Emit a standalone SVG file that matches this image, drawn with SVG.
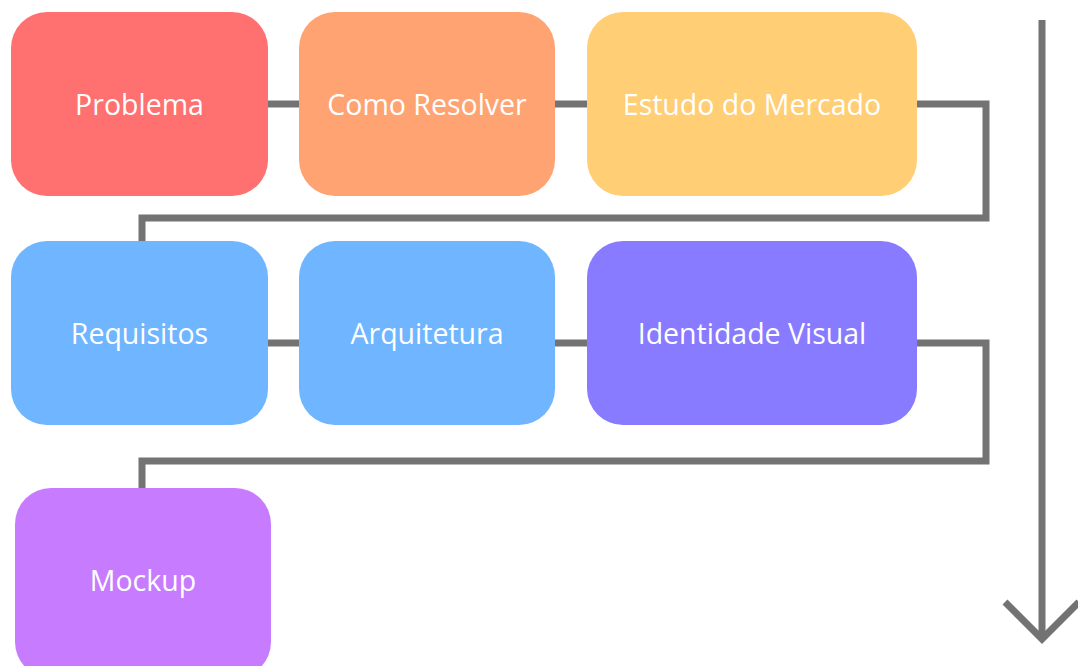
<svg xmlns="http://www.w3.org/2000/svg" width="1078" height="666" viewBox="0 0 1078 666">
<style>
.lbl{font-family:"Open Sans","Liberation Sans",sans-serif;font-size:28.5px;fill:#ffffff;text-anchor:middle;dominant-baseline:central}
.ln{fill:none;stroke:#737373;stroke-width:7;stroke-linejoin:miter}
</style>
<rect width="1078" height="666" fill="#ffffff"/>
<g id="connectors">
<path class="ln" d="M268 104H299M555 104H587M917 104H986V218H142V241"/>
<path class="ln" d="M268 343H299M555 343H587M917 343H986V461H142V488"/>
<path class="ln" d="M1042 20V640"/>
<path class="ln" d="M1005 602L1042 639L1079 602"/>
</g>
<g id="problema"><rect x="11" y="12" width="257" height="184" rx="36" fill="#FF7070"/><text class="lbl" x="139.5" y="104">Problema</text></g>
<g id="como-resolver"><rect x="299" y="12" width="256" height="184" rx="36" fill="#FFA372"/><text class="lbl" x="427" y="104">Como Resolver</text></g>
<g id="estudo-mercado"><rect x="587" y="12" width="330" height="184" rx="36" fill="#FFCE75"/><text class="lbl" x="752" y="104">Estudo do Mercado</text></g>
<g id="requisitos"><rect x="11" y="241" width="257" height="184" rx="36" fill="#70B5FF"/><text class="lbl" x="139.5" y="333">Requisitos</text></g>
<g id="arquitetura"><rect x="299" y="241" width="256" height="184" rx="36" fill="#70B5FF"/><text class="lbl" x="427" y="333">Arquitetura</text></g>
<g id="identidade-visual"><rect x="587" y="241" width="330" height="184" rx="36" fill="#887BFF"/><text class="lbl" x="752" y="333">Identidade Visual</text></g>
<g id="mockup"><rect x="15" y="488" width="256" height="190" rx="36" fill="#C77BFF"/><text class="lbl" x="143" y="580">Mockup</text></g>
</svg>
